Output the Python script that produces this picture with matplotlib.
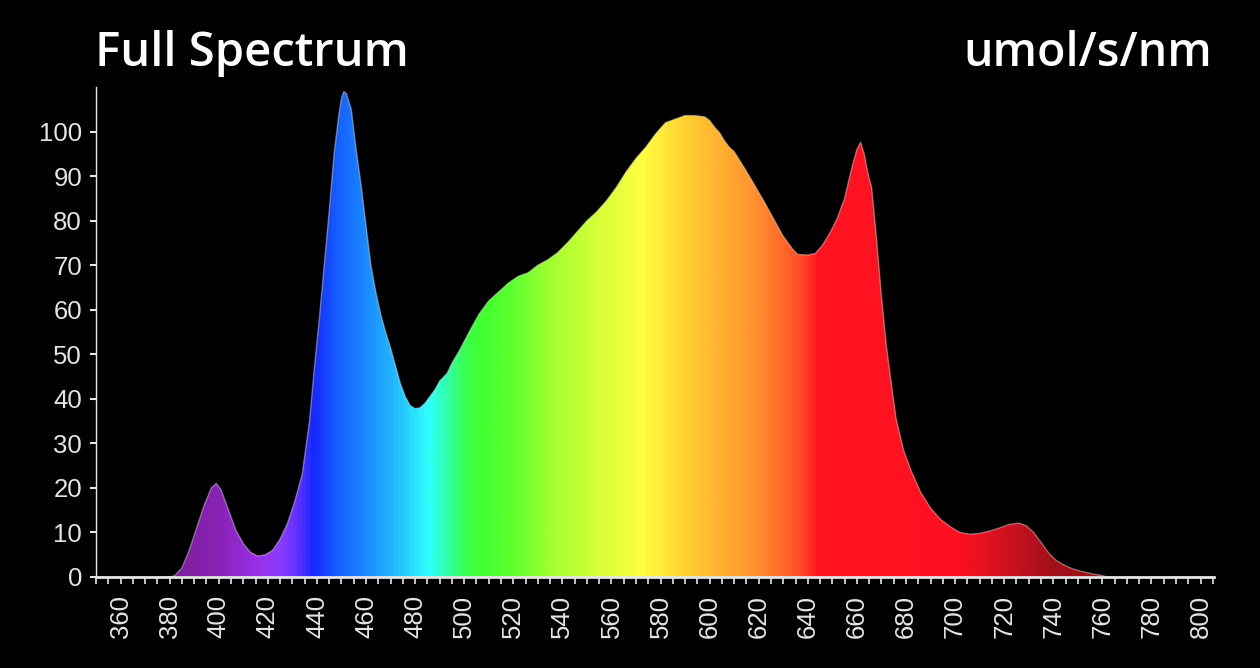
import numpy as np
import matplotlib
matplotlib.use('Agg')
import matplotlib.pyplot as plt
from matplotlib.colors import LinearSegmentedColormap
from matplotlib.ticker import MultipleLocator

# spectrum (nm, umol/s/nm)
wavelength = [350, 380, 382, 385, 388, 391, 394, 397, 399, 401, 404, 407, 410, 413, 416,
              419, 422, 425, 428, 431, 434, 437, 439, 441, 443, 445, 447, 449, 450, 451,
              452, 454, 456, 458, 460, 462, 464, 466, 468, 470, 472, 474, 476, 478, 480,
              482, 484, 486, 488, 490, 493, 495, 498, 502, 506, 510, 514, 518, 522, 526,
              530, 534, 538, 542, 546, 550, 554, 558, 562, 566, 570, 574, 578, 582, 586,
              590, 594, 598, 600, 602, 604, 606, 608, 610, 614, 618, 622, 626, 630, 634,
              636, 640, 643, 646, 649, 652, 655, 658, 660, 661.5, 663, 664, 665, 666, 668,
              670, 672, 674, 676, 679, 682, 686, 690, 694, 698, 702, 706, 710, 714, 718,
              722, 726, 729, 732, 735, 738, 741, 744, 748, 752, 756, 760, 762, 805]
intensity = [0, 0, 0.3, 2, 6, 11, 16, 20, 21, 19.5, 15, 10.5, 7.5, 5.5, 4.7,
             5, 6, 8.5, 12, 17, 23, 35, 47, 58, 70, 82, 95, 104, 107.5, 109,
             108.5, 105, 96, 88, 79, 70, 64, 59, 55, 51.5, 47.5, 43.5, 40.5, 38.5, 37.8,
             38, 39, 40.5, 42, 44, 45.7, 48, 50.8, 55, 59, 62, 64, 66, 67.5, 68.3,
             70, 71.2, 72.8, 75, 77.5, 80, 82, 84.5, 87.5, 91, 94, 96.5, 99.5, 102, 102.8,
             103.6, 103.6, 103.3, 102.5, 101, 99.8, 98, 96.5, 95.5, 92, 88.3, 84.5, 80.5, 76.5, 73.5,
             72.4, 72.3, 72.6, 74.5, 77.2, 80.5, 85, 92, 96, 97.6, 95, 92, 89.5, 87.5, 76,
             63, 52, 43.5, 35.5, 28.5, 24, 19, 15.5, 13, 11.3, 10, 9.6, 9.8, 10.3, 11,
             11.8, 12.1, 11.5, 10, 7.8, 5.5, 3.8, 2.8, 1.8, 1.2, 0.7, 0.3, 0, 0]

x_ticks = list(range(360, 801, 20))
y_ticks = list(range(0, 101, 10))

# rainbow colours along the wavelength axis
color_stops = [(350, '#7a1a9a'), (385, '#7e1fa0'), (400, '#8a22b8'), (415, '#9a30e8'),
               (425, '#8a3cff'), (432, '#5a30ff'), (438, '#1428ff'), (448, '#1460ff'),
               (460, '#1a8cff'), (470, '#22b4ff'), (478, '#28dcff'), (485, '#30ffff'),
               (492, '#30ffb0'), (500, '#38ff50'), (507, '#40ff30'), (520, '#60ff30'),
               (535, '#a0ff30'), (555, '#d8ff38'), (573, '#ffff40'), (592, '#ffcc30'),
               (605, '#ffb030'), (619, '#ff9030'), (630, '#ff6a2a'), (638, '#ff4828'),
               (645, '#ff1420'), (700, '#ff1020'), (712, '#e81020'), (728, '#c01020'),
               (742, '#a01018'), (805.5, '#901018')]

x_min, x_max = 350, 805.5
y_min, y_max = 0, 110
fg = '#e4e4e4'

cmap = LinearSegmentedColormap.from_list(
    'spec', [((w - x_min) / (x_max - x_min), c) for w, c in color_stops])

fig = plt.figure(figsize=(12.6, 6.68), dpi=100, facecolor='black')
ax = fig.add_axes([96 / 1260, 91 / 668, (1214 - 96) / 1260, (577 - 87) / 668])
ax.set_facecolor('black')

poly = ax.fill_between(wavelength, intensity, 0, facecolor='none', edgecolor='none')
grad = np.linspace(0, 1, 1000).reshape(1, -1)
im = ax.imshow(grad, extent=[x_min, x_max, y_min, y_max], aspect='auto',
               cmap=cmap, origin='lower', zorder=1, interpolation='bilinear')
im.set_clip_path(poly.get_paths()[0], transform=ax.transData)
ax.plot(wavelength, intensity, color='#d0d0d0', lw=1.0, alpha=0.5, zorder=2, clip_on=False)

ax.set_xlim(x_min, x_max)
ax.set_ylim(y_min, y_max)

for s in ['top', 'right']:
    ax.spines[s].set_visible(False)
ax.spines['left'].set_color(fg)
ax.spines['left'].set_linewidth(1)
ax.spines['bottom'].set_color(fg)
ax.spines['bottom'].set_linewidth(2)

ax.set_xticks(x_ticks)
ax.xaxis.set_minor_locator(MultipleLocator(5))
ax.set_yticks(y_ticks)
ax.tick_params(axis='x', which='both', colors=fg, direction='out', length=5, width=1.2,
               labelsize=18.5, labelrotation=90, pad=8)
ax.tick_params(axis='y', colors=fg, direction='out', length=4, width=1.5,
               labelsize=18.5, pad=6)
for lbl in ax.get_xticklabels() + ax.get_yticklabels():
    lbl.set_family('Liberation Sans')

fig.text(95 / 1260, 1 - 66 / 668, 'Full Spectrum', color='white', fontsize=34,
         fontweight='semibold', family='Open Sans', ha='left', va='baseline')
fig.text(1212 / 1260, 1 - 66 / 668, 'umol/s/nm', color='white', fontsize=33.5,
         fontweight='semibold', family='Open Sans', ha='right', va='baseline')

fig.savefig('out.png', dpi=100, facecolor='black')
